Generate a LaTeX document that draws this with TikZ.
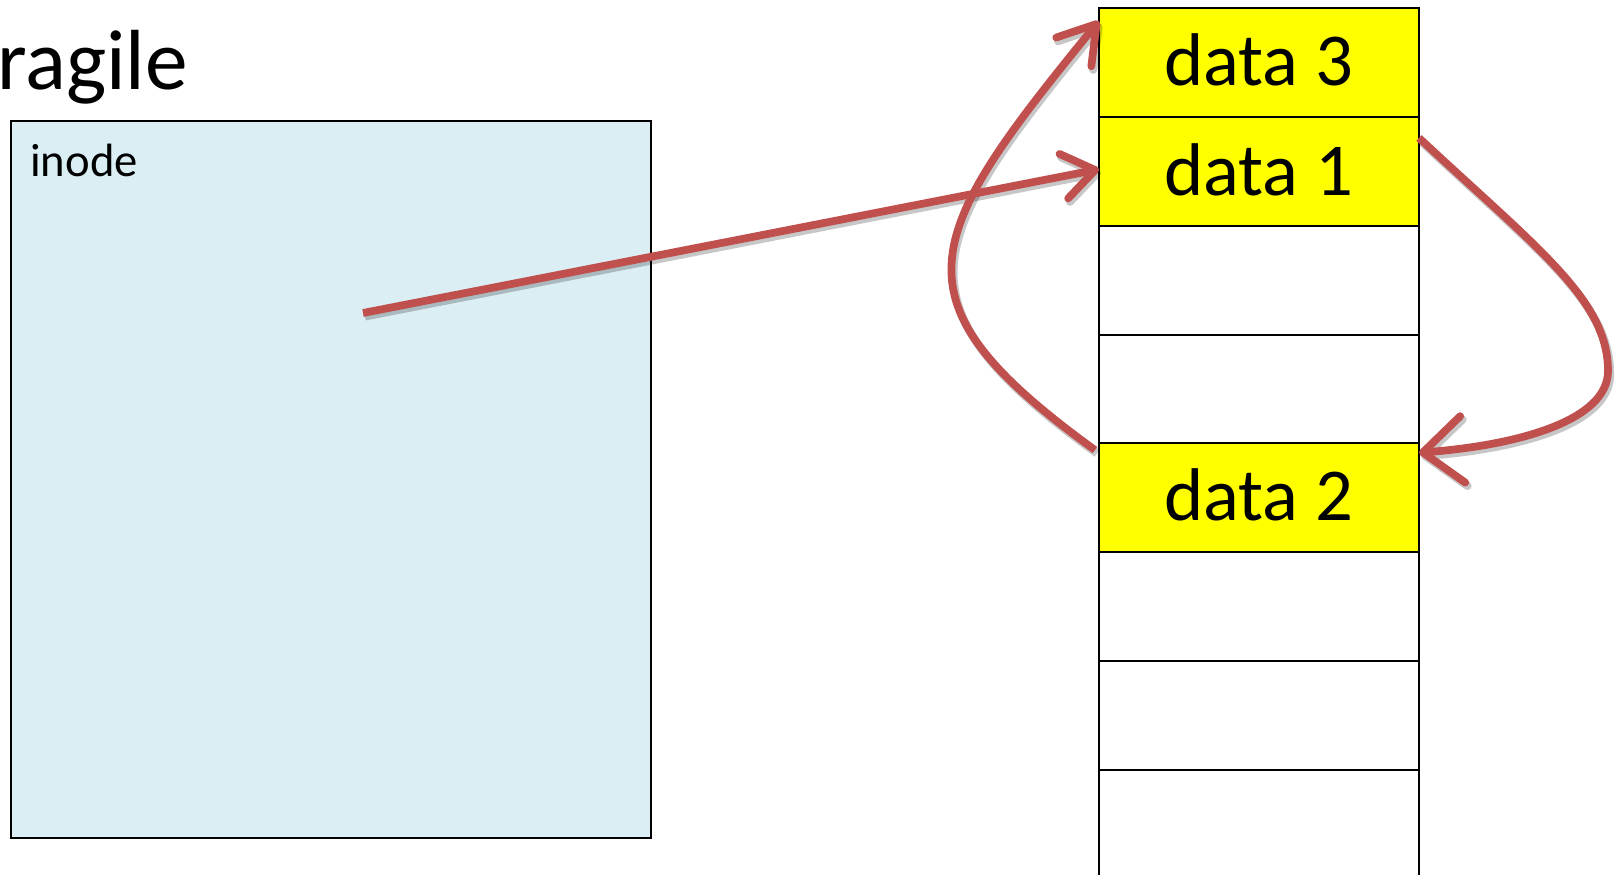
\documentclass[tikz,border=0pt]{standalone}
\usepackage{fontspec}
\setmainfont{Carlito}
\usetikzlibrary{arrows.meta}
\definecolor{inodeblue}{HTML}{DBEEF4}
\definecolor{ptrred}{HTML}{C0504D}
\definecolor{datayellow}{HTML}{FFFF00}
\begin{document}
\begin{tikzpicture}[x=0.75pt,y=-0.75pt,
  cell/.style={draw=black, line width=1.5pt, minimum width=240pt, minimum height=81.64pt,
    anchor=north west, inner sep=0pt, outer sep=0pt},
  used/.style={cell, fill=datayellow},
  free/.style={cell, fill=white},
  datalabel/.style={anchor=base, inner sep=0pt, font=\fontsize{56}{64}\selectfont},
  ptr/.style={draw=ptrred, line width=5.8pt},
  shade/.style={draw=black, line width=6.2pt, opacity=0.22},
  headA/.style={-{Straight Barb[length=24pt,width=34pt,round]}},
  headB/.style={-{Straight Barb[length=27pt,width=34pt,round]}},
  headC/.style={-{Straight Barb[length=30pt,width=50pt,round]}}]
\useasboundingbox (0,0) rectangle (1618,875);

% title fragment
\node[anchor=base west, inner sep=0pt, font=\fontsize{64}{74}\selectfont] (title) at (-3,89) {ragile};

% inode box
\node[draw=black, line width=1.2pt, fill=inodeblue, anchor=north west, minimum width=480pt,
  minimum height=537.75pt, inner sep=0pt, outer sep=0pt] (inode) at (11,121) {};
\node[anchor=base west, inner sep=0pt, font=\fontsize{35}{42}\selectfont] (inodelbl) at (30,176) {inode};

% disk blocks
\node[used] (d3) at (1099,8) {};
\node[used] (d1) at (1099,116.85) {};
\node[free] (e1) at (1099,225.7) {};
\node[free] (e2) at (1099,334.55) {};
\node[used] (d2) at (1099,443.4) {};
\node[free] (e3) at (1099,552.25) {};
\node[free] (e4) at (1099,661.1) {};
\node[free] (e5) at (1099,769.95) {};

\node[datalabel] (t3) at (1259,85.7) {data 3};
\node[datalabel] (t1) at (1259,195.5) {data 1};
\node[datalabel] (t2) at (1259,520.7) {data 2};

\coordinate (ptrstart) at (363,313);

% shadows
\begin{scope}[transform canvas={xshift=1.5pt,yshift=-2.5pt}]
  \draw[shade, headA] (ptrstart) -- ([yshift=1.5pt]d1.west);
  \draw[shade, headB] ([xshift=-3pt,yshift=-5pt]d2.north west)
     .. controls (888,300) and (920,240) .. ([yshift=-9.75pt]d3.north west);
  \draw[shade, headC] ([yshift=25pt]d1.east)
     .. controls (1538,249) and (1608,300) .. (1608,371)
     .. controls (1608,420) and (1520,445) .. ([yshift=-7pt]d2.north east);
\end{scope}

% pointers
\draw[ptr, headA] (ptrstart) -- ([yshift=1.5pt]d1.west);
\draw[ptr, headB] ([xshift=-3pt,yshift=-5pt]d2.north west)
   .. controls (888,300) and (920,240) .. ([yshift=-9.75pt]d3.north west);
\draw[ptr, headC] ([yshift=25pt]d1.east)
   .. controls (1538,249) and (1608,300) .. (1608,371)
   .. controls (1608,420) and (1520,445) .. ([yshift=-7pt]d2.north east);
\end{tikzpicture}
\end{document}
